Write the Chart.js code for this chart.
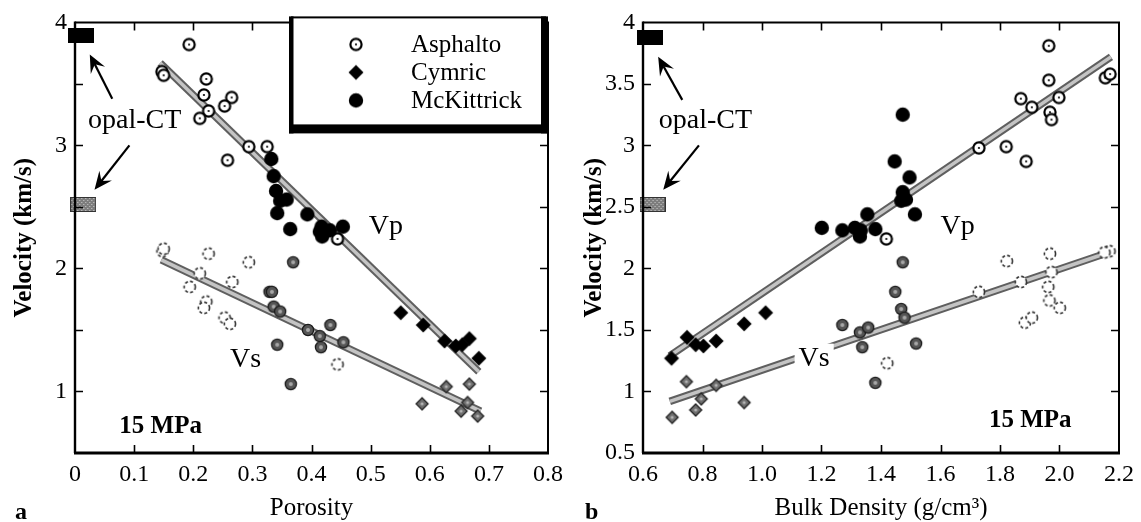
<!DOCTYPE html>
<html>
<head>
<meta charset="utf-8">
<script src="https://cdn.jsdelivr.net/npm/chart.js@4.4.1/dist/chart.umd.min.js"></script>
<style>
  html, body { margin: 0; padding: 0; background: #fff; }
  #wrap { position: relative; width: 1141px; height: 522px; }
  .panel { position: absolute; top: 0; }
  #panelA { left: 0; }
  #panelB { left: 570px; }
</style>
</head>
<body>
<div id="wrap">
  <div class="panel" id="panelA"><canvas id="chartA" width="570" height="522"></canvas></div>
  <div class="panel" id="panelB"><canvas id="chartB" width="571" height="522"></canvas></div>
</div>
<script>
// ---- panel a: velocity vs porosity ----
const asphaltoPorA   = [0.193, 0.147, 0.150, 0.222, 0.218, 0.265, 0.253, 0.226, 0.211, 0.294, 0.325, 0.258, 0.444];
const asphaltoVpA    = [3.82, 3.60, 3.57, 3.54, 3.41, 3.39, 3.32, 3.28, 3.22, 2.99, 2.99, 2.88, 2.24];
const asphaltoPorSA  = [0.148, 0.150, 0.226, 0.294, 0.211, 0.194, 0.266, 0.222, 0.218, 0.253, 0.262, 0.444];
const asphaltoVsA    = [2.14, 2.16, 2.12, 2.05, 1.96, 1.85, 1.89, 1.73, 1.68, 1.60, 1.55, 1.22];
const cymricPorA     = [0.551, 0.589, 0.625, 0.644, 0.655, 0.667, 0.683];
const cymricVpA      = [1.64, 1.54, 1.41, 1.37, 1.38, 1.43, 1.27];
const cymricPorSA    = [0.587, 0.628, 0.653, 0.664, 0.667, 0.681];
const cymricVsA      = [0.90, 1.04, 0.84, 0.91, 1.06, 0.80];
const mckPorA        = [0.332, 0.336, 0.340, 0.347, 0.358, 0.342, 0.393, 0.364, 0.417, 0.414, 0.418, 0.431, 0.453];
const mckVpA         = [2.89, 2.75, 2.63, 2.55, 2.56, 2.45, 2.44, 2.32, 2.34, 2.30, 2.26, 2.31, 2.34];
const mckPorSA       = [0.369, 0.329, 0.333, 0.342, 0.365, 0.432, 0.454, 0.394, 0.336, 0.347, 0.414, 0.416];
const mckVsA         = [2.05, 1.81, 1.81, 1.38, 1.06, 1.54, 1.40, 1.50, 1.69, 1.65, 1.45, 1.36];
const fitPorA        = [0.144, 0.683];
const fitVpA         = [3.67, 1.16];
const fitPorSA       = [0.146, 0.686];
const fitVsA         = [2.07, 0.84];
const opalPorA       = [0.010, 0.014];
const opalVelA       = [3.89, 2.52];

// ---- panel b: velocity vs bulk density ----
const asphaltoRhoB   = [1.964, 1.964, 1.870, 1.907, 1.998, 1.968, 1.973, 2.154, 2.170, 1.729, 1.821, 1.888, 1.418];
const asphaltoVpB    = [3.81, 3.53, 3.38, 3.31, 3.39, 3.27, 3.21, 3.55, 3.58, 2.98, 2.99, 2.87, 2.24];
const asphaltoRhoSB  = [1.968, 1.823, 2.168, 2.151, 1.973, 1.870, 1.729, 1.962, 1.966, 2.001, 1.884, 1.907, 1.421];
const asphaltoVsB    = [2.12, 2.06, 2.14, 2.13, 1.97, 1.89, 1.81, 1.85, 1.74, 1.68, 1.56, 1.60, 1.23];
const cymricRhoB     = [0.696, 0.748, 0.777, 0.803, 0.846, 0.940, 1.012];
const cymricVpB      = [1.27, 1.44, 1.38, 1.37, 1.41, 1.55, 1.64];
const cymricRhoSB    = [0.698, 0.746, 0.777, 0.796, 0.846, 0.940];
const cymricVsB      = [0.79, 1.08, 0.85, 0.94, 1.05, 0.91];
const mckRhoB        = [1.201, 1.270, 1.312, 1.329, 1.332, 1.354, 1.381, 1.446, 1.496, 1.473, 1.468, 1.484, 1.514, 1.473];
const mckVpB         = [2.33, 2.31, 2.33, 2.26, 2.31, 2.44, 2.32, 2.87, 2.74, 2.62, 2.55, 2.56, 2.44, 3.25];
const mckRhoSB       = [1.473, 1.448, 1.270, 1.518, 1.381, 1.329, 1.337, 1.357, 1.468, 1.479];
const mckVsB         = [2.05, 1.81, 1.54, 1.39, 1.07, 1.48, 1.36, 1.52, 1.67, 1.60];
const fitRhoB        = [0.69, 2.173];
const fitVpB         = [1.29, 3.72];
const fitRhoSB       = [0.69, 2.177];
const fitVsB         = [0.92, 2.14];
const opalRhoB       = [0.622, 0.632];
const opalVelB       = [3.88, 2.52];

const seriesNames = ['Asphalto', 'Cymric', 'McKittrick'];

const FONT = "'Liberation Serif', 'Times New Roman', serif";

function pts(xs, ys) {
  return xs.map((x, i) => ({ x: x, y: ys[i] }));
}

// small canvases used as point styles
function marker(kind) {
  const c = document.createElement('canvas');
  const s = 20;
  c.width = s; c.height = s;
  const g = c.getContext('2d');
  const m = s / 2;
  if (kind === 'openDot') {
    g.beginPath(); g.arc(m, m, 5.6, 0, Math.PI * 2);
    g.fillStyle = '#fff'; g.fill();
    g.lineWidth = 2.2; g.strokeStyle = '#000'; g.stroke();
    g.beginPath(); g.arc(m, m, 1.1, 0, Math.PI * 2); g.fillStyle = '#000'; g.fill();
  } else if (kind === 'dashed') {
    g.beginPath(); g.arc(m, m, 5.6, 0, Math.PI * 2);
    g.fillStyle = '#fff'; g.fill();
    g.setLineDash([3, 2.2]);
    g.lineWidth = 1.6; g.strokeStyle = '#333'; g.stroke();
  } else if (kind === 'diamond') {
    g.beginPath(); g.moveTo(m, m - 7.5); g.lineTo(m + 7.5, m); g.lineTo(m, m + 7.5); g.lineTo(m - 7.5, m); g.closePath();
    g.fillStyle = '#000'; g.fill();
  } else if (kind === 'greyDiamond') {
    g.beginPath(); g.moveTo(m, m - 6); g.lineTo(m + 6, m); g.lineTo(m, m + 6); g.lineTo(m - 6, m); g.closePath();
    g.fillStyle = '#6e6e6e'; g.fill();
    g.lineWidth = 1.3; g.strokeStyle = '#222'; g.stroke();
    g.beginPath(); g.arc(m, m, 1.6, 0, Math.PI * 2); g.fillStyle = '#b5b5b5'; g.fill();
  } else if (kind === 'disc') {
    g.beginPath(); g.arc(m, m, 7.2, 0, Math.PI * 2);
    g.fillStyle = '#000'; g.fill();
  } else if (kind === 'greyDisc') {
    g.beginPath(); g.arc(m, m, 5.6, 0, Math.PI * 2);
    g.fillStyle = '#555'; g.fill();
    g.lineWidth = 1.3; g.strokeStyle = '#1a1a1a'; g.stroke();
    g.beginPath(); g.arc(m, m, 2, 0, Math.PI * 2); g.fillStyle = '#a8a8a8'; g.fill();
  }
  return c;
}

function opalBlock(dark) {
  const c = document.createElement('canvas');
  c.width = 26; c.height = 15;
  const g = c.getContext('2d');
  if (dark) {
    g.fillStyle = '#000'; g.fillRect(0, 0, 26, 15);
  } else {
    g.fillStyle = '#7d7d7d'; g.fillRect(0, 0, 26, 15);
    g.fillStyle = '#cfcfcf';
    for (let i = 1; i < 25; i += 2) {
      for (let j = 1; j < 14; j += 2) {
        if ((i + j) % 4 === 0) g.fillRect(i, j, 1, 1);
      }
    }
    g.strokeStyle = '#333'; g.lineWidth = 1; g.strokeRect(0.5, 0.5, 25, 14);
  }
  return c;
}

const MK = {
  openDot: marker('openDot'),
  dashed: marker('dashed'),
  diamond: marker('diamond'),
  greyDiamond: marker('greyDiamond'),
  disc: marker('disc'),
  greyDisc: marker('greyDisc'),
  opalDark: opalBlock(true),
  opalGrey: opalBlock(false)
};

function scatterSet(data, style, order) {
  return { data: data, pointStyle: style, pointRadius: 6, showLine: false, clip: false, order: order };
}

function fitSets(data) {
  return [
    { data: data, showLine: true, pointRadius: 0, borderColor: '#5f5f5f', borderWidth: 7.5, borderCapStyle: 'butt', clip: false, order: 20 },
    { data: data, showLine: true, pointRadius: 0, borderColor: '#c4c4c4', borderWidth: 3.5, borderCapStyle: 'butt', clip: false, order: 19 }
  ];
}

function drawArrow(ctx, x1, y1, x2, y2) {
  const ang = Math.atan2(y2 - y1, x2 - x1);
  const L = 18, W = 8;
  ctx.beginPath();
  ctx.moveTo(x1, y1);
  ctx.lineTo(x2 - Math.cos(ang) * L * 0.6, y2 - Math.sin(ang) * L * 0.6);
  ctx.lineWidth = 2.2;
  ctx.stroke();
  ctx.save();
  ctx.translate(x2, y2);
  ctx.rotate(ang);
  ctx.beginPath();
  ctx.moveTo(0, 0);
  ctx.lineTo(-L, -W);
  ctx.lineTo(-L * 0.62, 0);
  ctx.lineTo(-L, W);
  ctx.closePath();
  ctx.fill();
  ctx.restore();
}

// frame, inward ticks, labels, arrows and legend
const panelDecor = {
  id: 'panelDecor',
  afterDraw(chart, args, opts) {
    const { ctx, chartArea: a, scales } = chart;
    const sx = scales.x, sy = scales.y;
    ctx.save();
    ctx.fillStyle = '#000';
    ctx.strokeStyle = '#000';

    // inward ticks on all four sides
    ctx.lineWidth = 1.6;
    const tl = 8;
    sx.ticks.forEach(t => {
      const px = Math.round(sx.getPixelForValue(t.value)) + 0.5;
      if (px <= a.left + 2 || px >= a.right - 2) return;
      ctx.beginPath();
      ctx.moveTo(px, a.bottom); ctx.lineTo(px, a.bottom - tl);
      ctx.moveTo(px, a.top); ctx.lineTo(px, a.top + tl);
      ctx.stroke();
    });
    sy.ticks.forEach(t => {
      const py = Math.round(sy.getPixelForValue(t.value)) + 0.5;
      if (py <= a.top + 2 || py >= a.bottom - 2) return;
      ctx.beginPath();
      ctx.moveTo(a.left, py); ctx.lineTo(a.left + tl, py);
      ctx.moveTo(a.right, py); ctx.lineTo(a.right - tl, py);
      ctx.stroke();
    });

    // frame: heavier on the left and bottom
    ctx.lineWidth = 2;
    ctx.beginPath();
    ctx.moveTo(a.left, a.top); ctx.lineTo(a.right, a.top); ctx.lineTo(a.right, a.bottom);
    ctx.stroke();
    ctx.lineWidth = 2.4;
    ctx.beginPath();
    ctx.moveTo(a.left, a.top - 1); ctx.lineTo(a.left, a.bottom);
    ctx.stroke();
    ctx.lineWidth = 3;
    ctx.beginPath();
    ctx.moveTo(a.left - 1, a.bottom); ctx.lineTo(a.right + 1, a.bottom);
    ctx.stroke();

    // arrows towards the opal-CT blocks
    (opts.arrows || []).forEach(ar => {
      drawArrow(ctx, sx.getPixelForValue(ar[0]), sy.getPixelForValue(ar[1]),
                sx.getPixelForValue(ar[2]), sy.getPixelForValue(ar[3]));
    });

    // text labels placed in data coordinates
    ctx.textBaseline = 'alphabetic';
    ctx.textAlign = 'left';
    (opts.labels || []).forEach(l => {
      ctx.font = l.font;
      const px = sx.getPixelForValue(l.x), py = sy.getPixelForValue(l.y);
      if (l.knockout) {
        const w = ctx.measureText(l.text).width;
        ctx.fillStyle = '#fff';
        ctx.fillRect(px - 4, py - 22, w + 8, 28);
      }
      ctx.fillStyle = '#000';
      ctx.fillText(l.text, px, py);
    });

    // panel letter
    ctx.font = 'bold 24px ' + FONT;
    ctx.fillText(opts.letter, opts.letterX, 519);

    // legend box
    if (opts.legend) {
      const L = a.right - 257, R = a.right - 2, T = a.top - 6, B = a.top + 102;
      ctx.fillStyle = '#fff';
      ctx.fillRect(L, T, R - L, B - T);
      ctx.fillStyle = '#000';
      ctx.fillRect(L, T, R - L, 2);          // top
      ctx.fillRect(L - 2, T, 4.5, B - T + 9); // left
      ctx.fillRect(R - 5, T, 7, B - T + 9);   // right
      ctx.fillRect(L - 2, B, R - L + 4, 9);   // bottom
      const icons = [MK.openDot, MK.diamond, MK.disc];
      ctx.font = '25px ' + FONT;
      ctx.textBaseline = 'middle';
      seriesNames.forEach((name, i) => {
        const cy = T + 28 + i * 28;
        const ic = icons[i];
        ctx.drawImage(ic, L + 65 - ic.width / 2, cy - ic.height / 2);
        ctx.fillText(name, L + 120, cy + 1);
      });
    }
    ctx.restore();
  }
};

function axisFont(size, bold) {
  return { family: FONT, size: size, weight: bold ? 'bold' : 'normal' };
}

function makeOptions(cfg) {
  return {
    responsive: false,
    animation: false,
    layout: { padding: { top: 21, right: cfg.padRight, left: 0, bottom: 0 } },
    plugins: {
      legend: { display: false },
      tooltip: { enabled: false },
      panelDecor: cfg.decor
    },
    scales: {
      x: {
        type: 'linear',
        min: cfg.xMin, max: cfg.xMax,
        grid: { display: false, drawTicks: false },
        border: { display: false },
        ticks: {
          stepSize: cfg.xStep, autoSkip: false, maxRotation: 0,
          color: '#000', font: axisFont(24), padding: 7
        },
        title: { display: true, text: cfg.xTitle, color: '#000', font: axisFont(25), padding: { top: 0, bottom: -1 } },
        afterFit: s => { s.height = 69; }
      },
      y: {
        type: 'linear',
        min: 0.5, max: 4,
        grid: { display: false, drawTicks: false },
        border: { display: false },
        ticks: {
          stepSize: 0.5, autoSkip: false,
          color: '#000', font: axisFont(24), padding: 8,
          callback: cfg.yLabel
        },
        title: { display: true, text: 'Velocity (km/s)', color: '#000', font: axisFont(25, true), padding: { top: 10, bottom: 0 } },
        afterFit: s => { s.width = cfg.yWidth; }
      }
    }
  };
}

new Chart(document.getElementById('chartA'), {
  type: 'scatter',
  data: {
    datasets: [
      ...fitSets(pts(fitPorA, fitVpA)),
      ...fitSets(pts(fitPorSA, fitVsA)),
      scatterSet(pts(opalPorA.slice(0, 1), opalVelA.slice(0, 1)), MK.opalDark, 5),
      scatterSet(pts(opalPorA.slice(1), opalVelA.slice(1)), MK.opalGrey, 5),
      scatterSet(pts(asphaltoPorSA, asphaltoVsA), MK.dashed, 4),
      scatterSet(pts(cymricPorSA, cymricVsA), MK.greyDiamond, 3),
      scatterSet(pts(mckPorSA, mckVsA), MK.greyDisc, 3),
      scatterSet(pts(asphaltoPorA, asphaltoVpA), MK.openDot, 2),
      scatterSet(pts(cymricPorA, cymricVpA), MK.diamond, 1),
      scatterSet(pts(mckPorA, mckVpA), MK.disc, 1)
    ]
  },
  options: makeOptions({
    padRight: 15, yWidth: 75,
    xMin: 0, xMax: 0.8, xStep: 0.1, xTitle: 'Porosity',
    yLabel: v => (Number.isInteger(v) ? String(v) : ''),
    decor: {
      letter: 'a', letterX: 15, legend: true,
      arrows: [[0.063, 3.38, 0.025, 3.74], [0.092, 3.0, 0.033, 2.64]],
      labels: [
        { text: 'opal-CT', x: 0.022, y: 3.14, font: '28px ' + FONT },
        { text: 'Vp', x: 0.497, y: 2.28, font: '28px ' + FONT },
        { text: 'Vs', x: 0.262, y: 1.20, font: '28px ' + FONT },
        { text: '15 MPa', x: 0.075, y: 0.66, font: 'bold 25px ' + FONT }
      ]
    }
  }),
  plugins: [panelDecor]
});

new Chart(document.getElementById('chartB'), {
  type: 'scatter',
  data: {
    datasets: [
      ...fitSets(pts(fitRhoB, fitVpB)),
      ...fitSets(pts(fitRhoSB, fitVsB)),
      scatterSet(pts(opalRhoB.slice(0, 1), opalVelB.slice(0, 1)), MK.opalDark, 5),
      scatterSet(pts(opalRhoB.slice(1), opalVelB.slice(1)), MK.opalGrey, 5),
      scatterSet(pts(asphaltoRhoSB, asphaltoVsB), MK.dashed, 4),
      scatterSet(pts(cymricRhoSB, cymricVsB), MK.greyDiamond, 3),
      scatterSet(pts(mckRhoSB, mckVsB), MK.greyDisc, 3),
      scatterSet(pts(asphaltoRhoB, asphaltoVpB), MK.openDot, 2),
      scatterSet(pts(cymricRhoB, cymricVpB), MK.diamond, 1),
      scatterSet(pts(mckRhoB, mckVpB), MK.disc, 1)
    ]
  },
  options: makeOptions({
    padRight: 18, yWidth: 73,
    xMin: 0.6, xMax: 2.2, xStep: 0.2, xTitle: 'Bulk Density (g/cm³)',
    yLabel: v => String(v),
    decor: {
      letter: 'b', letterX: 15, legend: false,
      arrows: [[0.732, 3.37, 0.651, 3.72], [0.788, 3.0, 0.668, 2.64]],
      labels: [
        { text: 'opal-CT', x: 0.653, y: 3.14, font: '28px ' + FONT },
        { text: 'Vp', x: 1.60, y: 2.28, font: '28px ' + FONT },
        { text: 'Vs', x: 1.123, y: 1.21, font: '28px ' + FONT, knockout: true },
        { text: '15 MPa', x: 1.763, y: 0.71, font: 'bold 25px ' + FONT }
      ]
    }
  }),
  plugins: [panelDecor]
});
</script>
</body>
</html>
